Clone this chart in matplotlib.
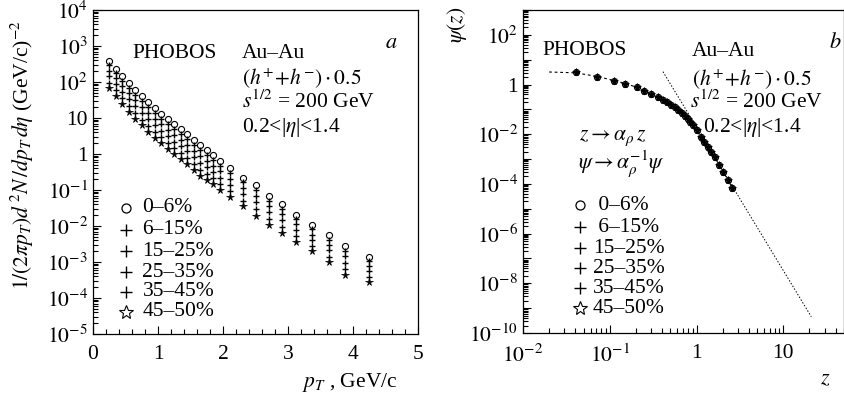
import math

import matplotlib
matplotlib.use("Agg")
import matplotlib.pyplot as plt
from matplotlib.ticker import FixedLocator, FuncFormatter, LogLocator, MultipleLocator, NullFormatter

plt.rcParams["font.family"] = ["Liberation Serif", "DejaVu Serif"]
plt.rcParams["mathtext.fontset"] = "stix"
plt.rcParams["font.size"] = 15.5

# ---- panel a: pT spectra per centrality ----
pt = [0.25, 0.35, 0.45, 0.55, 0.65, 0.75, 0.85, 0.95, 1.05, 1.15, 1.25, 1.35, 1.45, 1.55,
      1.65, 1.75, 1.85, 1.95, 2.1, 2.3, 2.5, 2.7, 2.9, 3.125, 3.375, 3.625, 3.875, 4.25]
cent_labels = ["0\u20136%", "6\u201315%", "15\u201325%", "25\u201335%", "35\u201345%", "45\u201350%"]
spec_0_6 = [389, 234, 148, 93, 60, 40, 27.5, 18.6, 12.9, 9.3, 6.8, 4.9, 3.5, 2.5, 1.8, 1.29,
            0.91, 0.65, 0.40, 0.22, 0.135, 0.066, 0.041, 0.020, 0.0107, 0.0056, 0.0028, 0.00138]
spec_6_15 = [289, 175, 109, 69, 44, 29, 20, 13.5, 9.4, 6.7, 4.9, 3.5, 2.6, 1.8, 1.29, 0.93,
             0.67, 0.47, 0.29, 0.164, 0.097, 0.049, 0.030, 0.0153, 0.0081, 0.0042, 0.0020, 0.00105]
spec_15_25 = [207, 126, 77, 49, 31, 20.3, 14.0, 9.4, 6.6, 4.7, 3.4, 2.4, 1.8, 1.23, 0.88, 0.65,
              0.47, 0.33, 0.205, 0.115, 0.067, 0.035, 0.021, 0.0111, 0.0058, 0.0030, 0.00143, 0.00077]
spec_25_35 = [144, 88, 53, 33, 21, 13.7, 9.4, 6.3, 4.4, 3.1, 2.2, 1.63, 1.21, 0.81, 0.57, 0.43,
              0.32, 0.22, 0.139, 0.078, 0.045, 0.024, 0.0143, 0.0077, 0.0041, 0.0021, 0.00096, 0.00055]
spec_35_45 = [96, 59, 35, 22, 13.6, 9.0, 6.1, 4.0, 2.9, 2.0, 1.44, 1.04, 0.78, 0.52, 0.36, 0.28,
              0.21, 0.145, 0.091, 0.051, 0.029, 0.0157, 0.0093, 0.0052, 0.0028, 0.00139, 0.00062, 0.00038]
spec_45_50 = [68, 42, 24.5, 15.1, 9.3, 6.2, 4.2, 2.75, 2.0, 1.38, 0.98, 0.71, 0.54, 0.35, 0.24, 0.19,
              0.145, 0.100, 0.063, 0.035, 0.0195, 0.011, 0.0065, 0.0037, 0.0020, 0.00098, 0.00043, 0.00028]
spectra = [spec_0_6, spec_6_15, spec_15_25, spec_25_35, spec_35_45, spec_45_50]

# ---- panel b: scaled function psi(z) (all centralities collapse) ----
z_scaled = [0.041, 0.072, 0.112, 0.151, 0.204, 0.245, 0.302, 0.355, 0.407, 0.457, 0.513, 0.562,
            0.617, 0.676, 0.741, 0.794, 0.851, 0.912, 1.0, 1.12, 1.23, 1.35, 1.48, 1.62, 1.82,
            2.04, 2.29, 2.57]
psi_scaled = [3.1, 2.1, 1.45, 1.10, 0.78, 0.575, 0.43, 0.31, 0.245, 0.195, 0.155, 0.12, 0.093,
              0.072, 0.054, 0.042, 0.032, 0.024, 0.015, 0.0079, 0.0049, 0.0030, 0.0019, 0.00117,
              0.0006, 0.0003, 0.00015, 0.00007]
fit_z = [0.02, 0.041, 0.072, 0.112, 0.151, 0.204, 0.302, 0.407, 0.513, 0.617, 0.741, 0.912,
         1.12, 1.35, 1.62, 2.04, 2.57]
fit_psi = [3.2, 2.95, 2.1, 1.45, 1.1, 0.78, 0.43, 0.245, 0.155, 0.093, 0.054, 0.024, 0.0079,
           0.0030, 0.00117, 0.0003, 0.00007]
power_z = [0.41, 21.0]
power_psi = [3.3, 4.5e-10]

MARKERS = [
    dict(marker="o", mfc="none", mec="black", ms=4.4, mew=0.8),
    dict(marker="+", color="black", ms=4.8, mew=1.0),
    dict(marker="+", color="black", ms=4.8, mew=1.0),
    dict(marker="+", color="black", ms=4.8, mew=1.0),
    dict(marker="+", color="black", ms=4.8, mew=1.0),
    dict(marker="*", color="black", ms=5.5, mew=0.5),
]
LEGEND_MARKERS = [
    dict(marker="o", mfc="none", mec="black", ms=6.5, mew=0.9),
    dict(marker="+", color="black", ms=8, mew=1.0),
    dict(marker="+", color="black", ms=8, mew=1.0),
    dict(marker="+", color="black", ms=8, mew=1.0),
    dict(marker="+", color="black", ms=8, mew=1.0),
    dict(marker="*", mfc="white", mec="black", ms=10, mew=0.8),
]


def log_label(value, pos):
    exponent = int(round(math.log10(value)))
    if exponent == 0:
        return "1"
    if exponent == 1:
        return "10"
    return f"$10^{{{exponent}}}$"


def even_log_label(value, pos):
    exponent = int(round(math.log10(value)))
    if exponent % 2:
        return ""
    return log_label(value, pos)


def style_axis(ax):
    ax.tick_params(which="both", direction="in", top=False, right=False, labelsize=15.5, width=0.8)
    ax.tick_params(which="major", length=6)
    ax.tick_params(which="minor", length=3.5)
    for spine in ax.spines.values():
        spine.set_linewidth(0.9)


def draw_legend(ax, x_marker, x_text, rows, labels):
    for style, y, label in zip(LEGEND_MARKERS, rows, labels):
        ax.plot([x_marker], [y], transform=ax.transAxes, linestyle="none", clip_on=False, **style)
        ax.text(x_text, y, label, transform=ax.transAxes, va="center", ha="left")


fig = plt.figure(figsize=(8.44, 4.03), dpi=100)
ax_a = fig.add_axes([93 / 844, 1 - 334 / 403, 325 / 844, 324 / 403])
ax_b = fig.add_axes([523 / 844, 1 - 333 / 403, 321 / 844, 323 / 403])

# panel a
for values, style in zip(spectra[::-1], MARKERS[::-1]):
    ax_a.plot(pt, values, linestyle="none", **style)
ax_a.set_yscale("log")
ax_a.set_xlim(0, 5)
ax_a.set_ylim(1e-5, 1e4)
ax_a.xaxis.set_major_locator(MultipleLocator(1))
ax_a.xaxis.set_minor_locator(MultipleLocator(0.2))
ax_a.yaxis.set_major_locator(LogLocator(base=10, numticks=20))
ax_a.yaxis.set_minor_locator(LogLocator(base=10, subs=range(2, 10), numticks=20))
ax_a.yaxis.set_major_formatter(FuncFormatter(log_label))
ax_a.yaxis.set_minor_formatter(NullFormatter())
style_axis(ax_a)
ax_a.tick_params(axis="x", pad=8)

ax_a.text(0.12, 0.867, "PHOBOS", transform=ax_a.transAxes, va="center")
ax_a.text(0.458, 0.867, "Au\u2013Au", transform=ax_a.transAxes, va="center")
ax_a.text(0.458, 0.787, r"$(h^{+}\!+\!h^{-})\cdot 0.5$", transform=ax_a.transAxes, va="center")
ax_a.text(0.458, 0.716, r"$s^{1/2}$ = 200 GeV", transform=ax_a.transAxes, va="center")
ax_a.text(0.458, 0.636, r"0.2<|$\eta$|<1.4", transform=ax_a.transAxes, va="center")
ax_a.text(0.898, 0.898, r"$a$", transform=ax_a.transAxes, va="center", fontsize=16)
draw_legend(ax_a, 0.102, 0.152, [0.389, 0.321, 0.256, 0.191, 0.130, 0.068], cent_labels)

fig.text(22 / 844, 1 - 155 / 403,
         r"$1/(2\pi p_T)d^{\,2}N\,/dp_T\,d\eta$ (GeV/c)$^{-2}$",
         rotation=90, ha="center", va="center", fontsize=15.5)
fig.text(350 / 844, 1 - 383 / 403, r"$p_T$ , GeV/c", ha="center", va="center")

# panel b
ax_b.plot(fit_z, fit_psi, color="black", linewidth=0.8, linestyle=(0, (2.5, 2.5)))
ax_b.plot(power_z, power_psi, color="black", linewidth=0.7, linestyle=(0, (1.5, 1.8)))
for style in MARKERS[::-1]:
    ax_b.plot(z_scaled, psi_scaled, linestyle="none", **style)
ax_b.set_xscale("log")
ax_b.set_yscale("log")
ax_b.set_xlim(0.01, 50)
ax_b.set_ylim(1e-10, 1e3)
ax_b.xaxis.set_major_locator(FixedLocator([0.01, 0.1, 1, 10]))
ax_b.xaxis.set_minor_locator(LogLocator(base=10, subs=range(2, 10), numticks=20))
ax_b.xaxis.set_major_formatter(FuncFormatter(log_label))
ax_b.xaxis.set_minor_formatter(NullFormatter())
ax_b.yaxis.set_major_locator(LogLocator(base=10, numticks=20))
ax_b.yaxis.set_minor_locator(LogLocator(base=10, subs=range(2, 10), numticks=20))
ax_b.yaxis.set_major_formatter(FuncFormatter(even_log_label))
ax_b.yaxis.set_minor_formatter(NullFormatter())
style_axis(ax_b)
ax_b.tick_params(axis="x", pad=8)

ax_b.text(0.062, 0.876, "PHOBOS", transform=ax_b.transAxes, va="center")
ax_b.text(0.526, 0.870, "Au\u2013Au", transform=ax_b.transAxes, va="center")
ax_b.text(0.526, 0.783, r"$(h^{+}\!+\!h^{-})\cdot 0.5$", transform=ax_b.transAxes, va="center")
ax_b.text(0.52, 0.716, r"$s^{1/2}$ = 200 GeV", transform=ax_b.transAxes, va="center")
ax_b.text(0.561, 0.635, r"0.2<|$\eta$|<1.4", transform=ax_b.transAxes, va="center")
ax_b.text(0.952, 0.898, r"$b$", transform=ax_b.transAxes, va="center", fontsize=16)
ax_b.text(0.174, 0.604, r"$z\rightarrow\alpha_\rho\, z$", transform=ax_b.transAxes, va="center")
ax_b.text(0.171, 0.526, r"$\psi\rightarrow\alpha_\rho^{-1}\psi$", transform=ax_b.transAxes, va="center")
draw_legend(ax_b, 0.178, 0.218, [0.396, 0.328, 0.263, 0.201, 0.139, 0.077],
            [" " + cent_labels[0], " " + cent_labels[1]] + cent_labels[2:])

fig.text(457 / 844, 1 - 25 / 403, r"$\psi(z)$", rotation=90, ha="center", va="center")
fig.text(825 / 844, 1 - 380 / 403, r"$z$", ha="center", va="center", fontsize=16)

fig.savefig("out.png", dpi=100)
